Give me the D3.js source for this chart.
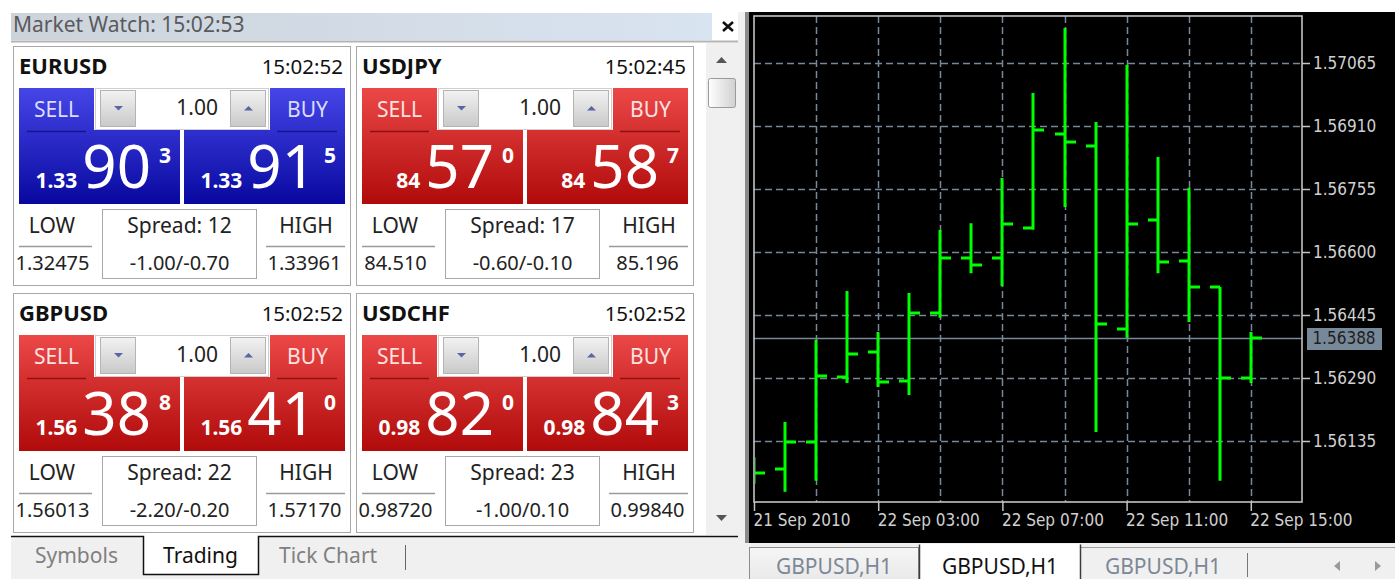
<!DOCTYPE html>
<html>
<head>
<meta charset="utf-8">
<script src="https://cdn.jsdelivr.net/npm/d3@7"></script>
<style>
body { margin: 0; background: #fff; }
svg text { font-family: "Noto Sans", sans-serif; }
.axis text { font-family: "DejaVu Sans Condensed", "DejaVu Sans", sans-serif; font-stretch: condensed; }
</style>
</head>
<body>
<script>
//page size
var w = 1395, h = 579;

// market watch quotes
var symbols = ["EURUSD", "USDJPY", "GBPUSD", "USDCHF"];
var quoteTimes = ["15:02:52", "15:02:45", "15:02:52", "15:02:52"];
var bidPrefix = ["1.33", "84", "1.56", "0.98"];
var bidBig = ["90", "57", "38", "82"];
var bidPip = ["3", "0", "8", "0"];
var askPrefix = ["1.33", "84", "1.56", "0.98"];
var askBig = ["91", "58", "41", "84"];
var askPip = ["5", "7", "0", "3"];
var lowValues = ["1.32475", "84.510", "1.56013", "0.98720"];
var highValues = ["1.33961", "85.196", "1.57170", "0.99840"];
var spreads = [12, 17, 22, 23];
var swaps = ["-1.00/-0.70", "-0.60/-0.10", "-2.20/-0.20", "-1.00/0.10"];
var lotSize = "1.00";
var panelTabs = ["Symbols", "Trading", "Tick Chart"];

// GBPUSD H1 bars
var barTimes = ["2010-09-21 23:00", "2010-09-22 00:00", "2010-09-22 01:00", "2010-09-22 02:00",
    "2010-09-22 03:00", "2010-09-22 04:00", "2010-09-22 05:00", "2010-09-22 06:00",
    "2010-09-22 07:00", "2010-09-22 08:00", "2010-09-22 09:00", "2010-09-22 10:00",
    "2010-09-22 11:00", "2010-09-22 12:00", "2010-09-22 13:00", "2010-09-22 14:00",
    "2010-09-22 15:00"];
var barOpen = [1.56070, 1.56066, 1.56133, 1.56293, 1.56354, 1.56283, 1.56450, 1.56585, 1.56585,
    1.56659, 1.56890, 1.56861, 1.56411, 1.56679, 1.56578, 1.56514, 1.56290];
var barHigh = [1.56095, 1.56182, 1.56384, 1.56504, 1.56403, 1.56499, 1.56654, 1.56671, 1.56782,
    1.56991, 1.57151, 1.56920, 1.57060, 1.56834, 1.56758, 1.56514, 1.56403];
var barLow = [1.56030, 1.56010, 1.56037, 1.56278, 1.56268, 1.56248, 1.56438, 1.56548, 1.56516,
    1.56655, 1.56711, 1.56157, 1.56389, 1.56548, 1.56428, 1.56037, 1.56278];
var barClose = [1.56056, 1.56133, 1.56295, 1.56349, 1.56280, 1.56450, 1.56585, 1.56568, 1.56669,
    1.56900, 1.56871, 1.56423, 1.56669, 1.56575, 1.56514, 1.56290, 1.56388];
var bidPrice = 1.56388;
var yTicks = [1.56135, 1.56290, 1.56445, 1.56600, 1.56755, 1.56910, 1.57065];
var gridTimes = ["2010-09-22 01:00", "2010-09-22 03:00", "2010-09-22 05:00", "2010-09-22 07:00",
    "2010-09-22 09:00", "2010-09-22 11:00", "2010-09-22 13:00", "2010-09-22 15:00"];
var xTickTimes = ["2010-09-21 23:00", "2010-09-22 03:00", "2010-09-22 07:00", "2010-09-22 11:00", "2010-09-22 15:00"];
var xTickLabels = ["21 Sep 2010", "22 Sep 03:00", "22 Sep 07:00", "22 Sep 11:00", "22 Sep 15:00"];
var chartTabs = ["GBPUSD,H1", "GBPUSD,H1", "GBPUSD,H1"];

var parseTime = d3.timeParse("%Y-%m-%d %H:%M");

var svg = d3.select("body")
    .append("svg")
    .attr("width", w)
    .attr("height", h);

var defs = svg.append("defs");

//vertical or horizontal gradient helper
function gradient(id, c1, c2, horizontal) {
    var g = defs.append("linearGradient")
        .attr("id", id)
        .attr("x1", 0).attr("y1", 0)
        .attr("x2", horizontal ? 1 : 0)
        .attr("y2", horizontal ? 0 : 1);
    g.append("stop").attr("offset", "0%").attr("stop-color", c1);
    g.append("stop").attr("offset", "100%").attr("stop-color", c2);
}
gradient("blueBtn", "#4646e8", "#0808a0");
gradient("redBtn", "#ec4848", "#b00a0a");
gradient("greyBtn", "#f2f2f2", "#c9c9c9");
gradient("titleBar", "#ccd3db", "#d9e4f1", true);
gradient("thumb", "#ffffff", "#d0d0d0", true);
gradient("tabGrey", "#f6f6f6", "#e6e6e6");

// ---------- Market Watch panel ----------
svg.append("rect")
    .attr("x", 11).attr("y", 13).attr("width", 701).attr("height", 27)
    .style("fill", "url(#titleBar)");
svg.append("text")
    .attr("x", 13).attr("y", 32)
    .style("font-size", "21px")
    .style("fill", "#5a5a5a")
    .text("Market Watch: 15:02:53");
svg.append("path")
    .attr("d", "M723,22L733,31M733,22L723,31")
    .style("stroke", "#111").style("stroke-width", 2.6);
svg.append("line")
    .attr("x1", 11).attr("x2", 740).attr("y1", 41.5).attr("y2", 41.5)
    .style("stroke", "#b4b4b4").style("stroke-width", 2);

// scrollbar
svg.append("rect")
    .attr("x", 706).attr("y", 43).attr("width", 32).attr("height", 492)
    .style("fill", "#f0f0f0");
svg.append("path")
    .attr("d", "M716,63L727,63L721.5,57Z")
    .style("fill", "#555");
svg.append("path")
    .attr("d", "M716,515L727,515L721.5,521Z")
    .style("fill", "#555");
svg.append("rect")
    .attr("x", 708.5).attr("y", 78.5).attr("width", 27).attr("height", 29).attr("rx", 2)
    .style("fill", "url(#thumb)").style("stroke", "#9a9a9a");

// cards
var cards = svg.selectAll(".card")
    .data(symbols)
    .enter()
    .append("g")
    .attr("class", "card")
    .attr("transform", function(d, i){
        return "translate(" + (13 + (i % 2) * 343) + "," + (46 + Math.floor(i / 2) * 247) + ")";
    });

cards.append("rect")
    .attr("x", 0.5).attr("y", 0.5).attr("width", 337).attr("height", 239)
    .style("fill", "#fff").style("stroke", "#a8a8a8");

cards.append("text")
    .attr("x", 6).attr("y", 28)
    .style("font-size", "22px").style("font-weight", "bold").style("fill", "#111")
    .text(function(d){ return d; });

cards.append("text")
    .attr("x", 330).attr("y", 28)
    .attr("text-anchor", "end")
    .style("font-size", "20.5px").style("fill", "#111")
    .text(function(d, i){ return quoteTimes[i]; });

//sell and buy shapes
cards.append("path")
    .attr("d", "M6,42H81V84H167V158H6Z")
    .style("fill", function(d, i){ return i == 0 ? "url(#blueBtn)" : "url(#redBtn)"; });
cards.append("path")
    .attr("d", "M257,42H332V158H171V84H257Z")
    .style("fill", function(d, i){ return i == 0 ? "url(#blueBtn)" : "url(#redBtn)"; });
cards.append("path")
    .attr("d", "M14,85.5H73M264,85.5H324")
    .style("stroke", function(d, i){ return i == 0 ? "#16168a" : "#8e1010"; })
    .style("stroke-width", 1.5);

cards.append("text")
    .attr("x", 43.5).attr("y", 71)
    .attr("text-anchor", "middle")
    .style("font-size", "21px")
    .style("fill", function(d, i){ return i == 0 ? "#dcdcff" : "#ffe2e2"; })
    .text("SELL");
cards.append("text")
    .attr("x", 294.5).attr("y", 71)
    .attr("text-anchor", "middle")
    .style("font-size", "21px")
    .style("fill", function(d, i){ return i == 0 ? "#dcdcff" : "#ffe2e2"; })
    .text("BUY");

//lot control
cards.append("rect")
    .attr("x", 82.5).attr("y", 42.5).attr("width", 173).attr("height", 41)
    .style("fill", "#fff").style("stroke", "#cfcfcf");
cards.append("rect")
    .attr("x", 87.5).attr("y", 44.5).attr("width", 35).attr("height", 36)
    .style("fill", "url(#greyBtn)").style("stroke", "#b4b4b4");
cards.append("rect")
    .attr("x", 217.5).attr("y", 44.5).attr("width", 35).attr("height", 36)
    .style("fill", "url(#greyBtn)").style("stroke", "#b4b4b4");
cards.append("path")
    .attr("d", "M101,60H110L105.5,64.5Z")
    .style("fill", "#5c64a8");
cards.append("path")
    .attr("d", "M231,64.5H240L235.5,60Z")
    .style("fill", "#5c64a8");
cards.append("text")
    .attr("x", 205).attr("y", 69)
    .attr("text-anchor", "end")
    .style("font-size", "21px").style("fill", "#222")
    .text(lotSize);

//big price texts
function priceText(sel, xEnd, pre, big, pip) {
    var t = sel.append("text")
        .attr("x", xEnd).attr("y", 142)
        .attr("text-anchor", "end")
        .style("fill", "#fff");
    t.append("tspan")
        .style("font-size", "21px").style("font-weight", "bold")
        .text(function(d, i){ return pre[i]; });
    t.append("tspan")
        .attr("dx", 5)
        .style("font-size", "60px")
        .text(function(d, i){ return big[i]; });
    t.append("tspan")
        .attr("dx", 8).attr("dy", -25)
        .style("font-size", "21px").style("font-weight", "bold")
        .text(function(d, i){ return pip[i]; });
}
priceText(cards, 158, bidPrefix, bidBig, bidPip);
priceText(cards, 323, askPrefix, askBig, askPip);

//low, spread, high
cards.append("text")
    .attr("x", 39).attr("y", 187).attr("text-anchor", "middle")
    .style("font-size", "21px").style("fill", "#222")
    .text("LOW");
cards.append("text")
    .attr("x", 293).attr("y", 187).attr("text-anchor", "middle")
    .style("font-size", "21px").style("fill", "#222")
    .text("HIGH");
cards.append("path")
    .attr("d", "M6,200.5H79M253,200.5H332")
    .style("stroke", "#9a9a9a").style("stroke-width", 1.5);
cards.append("text")
    .attr("x", 39.5).attr("y", 224).attr("text-anchor", "middle")
    .style("font-size", "20px").style("fill", "#222")
    .text(function(d, i){ return lowValues[i]; });
cards.append("text")
    .attr("x", 291.5).attr("y", 224).attr("text-anchor", "middle")
    .style("font-size", "20px").style("fill", "#222")
    .text(function(d, i){ return highValues[i]; });
cards.append("rect")
    .attr("x", 89.5).attr("y", 163.5).attr("width", 154).attr("height", 69)
    .style("fill", "#fff").style("stroke", "#a8a8a8");
cards.append("text")
    .attr("x", 166.5).attr("y", 187).attr("text-anchor", "middle")
    .style("font-size", "21px").style("fill", "#222")
    .text(function(d, i){ return "Spread: " + spreads[i]; });
cards.append("text")
    .attr("x", 166.5).attr("y", 224).attr("text-anchor", "middle")
    .style("font-size", "20px").style("fill", "#222")
    .text(function(d, i){ return swaps[i]; });

// panel tabs
svg.append("rect")
    .attr("x", 11).attr("y", 536).attr("width", 729).attr("height", 43)
    .style("fill", "#f0f0f0");
svg.append("rect")
    .attr("x", 143).attr("y", 536).attr("width", 115).attr("height", 38)
    .style("fill", "#fff");
svg.append("path")
    .attr("d", "M11,536.5H143.5V574.5H258.5V536.5H738")
    .style("fill", "none").style("stroke", "#111").style("stroke-width", 1.5);
svg.append("line")
    .attr("x1", 405.5).attr("x2", 405.5).attr("y1", 545).attr("y2", 570)
    .style("stroke", "#666");
var tabX = [35, 163, 279];
svg.selectAll(".ptab")
    .data(panelTabs)
    .enter()
    .append("text")
    .attr("class", "ptab")
    .attr("x", function(d, i){ return tabX[i]; })
    .attr("y", 563)
    .style("font-size", "21px")
    .style("fill", function(d, i){ return i == 1 ? "#111" : "#808080"; })
    .text(function(d){ return d; });

// ---------- chart window ----------
svg.append("rect")
    .attr("x", 738).attr("y", 12).attr("width", 10).attr("height", 567)
    .style("fill", "#f0f0f0");
svg.append("rect")
    .attr("x", 745).attr("y", 12).attr("width", 4).attr("height", 531)
    .style("fill", "#8a8a8a");
svg.append("rect")
    .attr("x", 749).attr("y", 12).attr("width", 646).attr("height", 531)
    .style("fill", "#000");

//plot frame edges
var plotLeft = 754, plotRight = 1302, plotTop = 16, plotBottom = 502;

var x = d3.scaleTime()
    .domain([parseTime(barTimes[0]), parseTime(barTimes[barTimes.length - 1])])
    .range([754, 1250.8]);

var y = d3.scaleLinear()
    .domain([1.56135, 1.57065])
    .range([441, 63]);

var chart = svg.append("g").attr("class", "chart");

defs.append("clipPath").attr("id", "plotClip")
    .append("rect")
    .attr("x", plotLeft + 1).attr("y", plotTop + 1)
    .attr("width", plotRight - plotLeft - 2).attr("height", plotBottom - plotTop - 2);

//grid
chart.selectAll(".hgrid")
    .data(yTicks)
    .enter()
    .append("line")
    .attr("class", "hgrid")
    .attr("x1", plotLeft).attr("x2", plotRight)
    .attr("y1", function(d){ return Math.round(y(d)) + 0.5; })
    .attr("y2", function(d){ return Math.round(y(d)) + 0.5; })
    .style("stroke", "#778899").style("stroke-width", 1.5).style("stroke-dasharray", "7,4");
chart.selectAll(".vgrid")
    .data(gridTimes)
    .enter()
    .append("line")
    .attr("class", "vgrid")
    .attr("x1", function(d){ return Math.round(x(parseTime(d))) + 0.5; })
    .attr("x2", function(d){ return Math.round(x(parseTime(d))) + 0.5; })
    .attr("y1", plotTop).attr("y2", plotBottom)
    .style("stroke", "#778899").style("stroke-width", 1.5).style("stroke-dasharray", "7,4");

//bid line
chart.append("line")
    .attr("x1", plotLeft).attr("x2", plotRight)
    .attr("y1", Math.round(y(bidPrice)) + 0.5).attr("y2", Math.round(y(bidPrice)) + 0.5)
    .style("stroke", "#778899").style("stroke-width", 1.5);

//bars
var bars = chart.append("g")
    .attr("clip-path", "url(#plotClip)")
    .selectAll(".bar")
    .data(barTimes)
    .enter()
    .append("path")
    .attr("class", "bar")
    .attr("d", function(d, i){
        var bx = Math.round(x(parseTime(d)));
        var o = Math.round(y(barOpen[i])), c = Math.round(y(barClose[i]));
        return "M" + bx + "," + y(barHigh[i]) + "V" + y(barLow[i]) +
            "M" + (bx - 10) + "," + o + "H" + bx +
            "M" + bx + "," + c + "H" + (bx + 11);
    })
    .style("fill", "none")
    .style("stroke", "#00ff00")
    .style("stroke-width", 3);

//frame
chart.append("rect")
    .attr("x", plotLeft).attr("y", plotTop)
    .attr("width", plotRight - plotLeft).attr("height", plotBottom - plotTop)
    .style("fill", "none").style("stroke", "#c4c4c4").style("stroke-width", 1.6);

//price axis
var yAxis = d3.axisRight(y)
    .tickValues(yTicks)
    .tickFormat(d3.format(".5f"))
    .tickSize(8)
    .tickPadding(3);
var yAxisG = chart.append("g")
    .attr("class", "axis")
    .attr("transform", "translate(" + plotRight + ",0)")
    .call(yAxis);
yAxisG.select(".domain").remove();
yAxisG.selectAll("line").style("stroke", "#c4c4c4").style("stroke-width", 1.5);
yAxisG.selectAll("text").style("fill", "#d0d0d0").style("font-size", "17px");

//time axis
var xAxis = d3.axisBottom(x)
    .tickValues(xTickTimes.map(parseTime))
    .tickFormat(function(d, i){ return xTickLabels[i]; })
    .tickSize(9)
    .tickPadding(3);
var xAxisG = chart.append("g")
    .attr("class", "axis")
    .attr("transform", "translate(0," + plotBottom + ")")
    .call(xAxis);
xAxisG.select(".domain").remove();
xAxisG.selectAll("line").style("stroke", "#c4c4c4").style("stroke-width", 1.5);
xAxisG.selectAll("text")
    .attr("text-anchor", "start")
    .attr("x", -1)
    .style("fill", "#d0d0d0").style("font-size", "17px");

//bid label
chart.append("rect")
    .attr("x", 1307).attr("y", Math.round(y(bidPrice)) - 10)
    .attr("width", 75).attr("height", 22)
    .style("fill", "#778899");
chart.append("text")
    .attr("x", 1344).attr("y", Math.round(y(bidPrice)) + 6)
    .attr("text-anchor", "middle")
    .style("fill", "#1e1e1e").style("font-size", "17px")
    .style("font-family", "'DejaVu Sans Condensed', 'DejaVu Sans', sans-serif")
    .style("font-stretch", "condensed")
    .text(d3.format(".5f")(bidPrice));

// chart tabs
svg.append("rect")
    .attr("x", 745).attr("y", 543).attr("width", 650).attr("height", 36)
    .style("fill", "#f0f0f0");
svg.append("rect")
    .attr("x", 749.5).attr("y", 547.5).attr("width", 169).attr("height", 40)
    .style("fill", "url(#tabGrey)").style("stroke", "#8c8c8c");
svg.append("rect")
    .attr("x", 1080.5).attr("y", 547.5).attr("width", 330).attr("height", 40)
    .style("fill", "#f0f0f0").style("stroke", "#a0a0a0");
svg.append("rect")
    .attr("x", 919).attr("y", 544).attr("width", 161).attr("height", 40)
    .style("fill", "#fff");
svg.append("path")
    .attr("d", "M919.5,579V544.5M1080.5,544.5V579")
    .style("stroke", "#3c3c3c").style("stroke-width", 1.5);
svg.append("line")
    .attr("x1", 1247.5).attr("x2", 1247.5).attr("y1", 553).attr("y2", 577)
    .style("stroke", "#777");
var chartTabX = [834, 1000, 1163];
svg.selectAll(".ctab")
    .data(chartTabs)
    .enter()
    .append("text")
    .attr("class", "ctab")
    .attr("x", function(d, i){ return chartTabX[i]; })
    .attr("y", 574)
    .attr("text-anchor", "middle")
    .style("font-size", "21px")
    .style("fill", function(d, i){ return i == 1 ? "#111" : "#7d8796"; })
    .text(function(d){ return d; });
svg.append("path")
    .attr("d", "M1334,566L1340,561V571Z M1381,566L1375,561V571Z")
    .style("fill", "#9a9a9a");
</script>
</body>
</html>
